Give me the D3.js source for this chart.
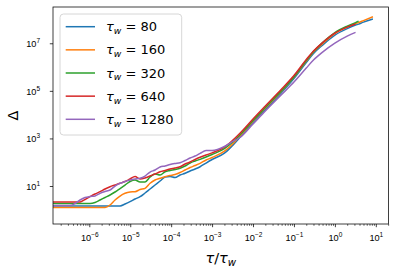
<!DOCTYPE html>
<html>
<head>
<meta charset="utf-8">
<script src="https://d3js.org/d3.v7.min.js"></script>
<style>
    body { margin: 0; background: white; }
    svg { display: block; font-family: "DejaVu Sans", sans-serif; }
</style>
</head>
<body>
<svg id="chart" width="394" height="275"></svg>
<script>
    // tau / tau_w sample positions (shared by all curves)
    const tauRatio = [1.3e-7, 1.92e-7, 3.37e-7, 4.47e-7, 5.93e-7, 7.85e-7, 1.04e-6, 1.38e-6, 1.83e-6, 2.42e-6,
        3.21e-6, 4.25e-6, 5.64e-6, 7.46e-6, 9.89e-6, 1.31e-5, 1.74e-5, 2.30e-5, 3.05e-5, 4.04e-5,
        5.36e-5, 7.10e-5, 9.40e-5, 1.24e-4, 1.65e-4, 2.19e-4, 2.90e-4, 3.84e-4, 5.09e-4, 7.13e-4,
        1e-3, 2e-3, 3e-3, 5e-3, 1e-2, 2e-2, 5e-2, 0.1, 0.2, 0.3, 0.5, 1, 2, 3.2, 3.8, 5, 8.5];

    const waitTimes = [80, 160, 320, 640, 1280];

    // Delta for each waiting time (null = curve has ended)
    const delta80 = [1.45, 1.45, 1.45, 1.45, 1.45, 1.45, 1.45, 1.45, 1.45, 1.45,
        1.45, 1.45, 1.45, 1.75, 2.19, 2.84, 3.55, 5.08, 7.48, 11.0,
        16.2, 23.9, 25.1, 22.8, 29.0, 34.2, 42.7, 51.8, 64.7, 92.5,
        130, 240, 460, 1200, 4660, 1.64e4, 8.49e4, 3.29e5, 1.55e6, 3.69e6, 8.40e6, 2.21e7, 4.15e7, 5.82e7, 6.41e7, 7.78e7, 1.04e8];
    const delta160 = [1.25, 1.25, 1.25, 1.25, 1.25, 1.25, 1.25, 1.25, 1.25, 1.25,
        1.59, 2.58, 3.80, 4.93, 5.60, 5.77, 7.13, 8.00, 13.0, 17.9,
        21.1, 24.6, 27.6, 30.4, 36.9, 47.0, 59.8, 72.6, 89.9, 124,
        157, 290, 530, 1390, 5380, 1.89e4, 9.82e4, 3.80e5, 1.79e6, 4.27e6, 9.71e6, 2.56e7, 4.80e7, 6.73e7, 7.41e7, 8.99e7, 1.30e8];
    const delta320 = [1.84, 1.84, 1.84, 1.84, 1.84, 1.84, 1.84, 2.03, 2.58, 3.29,
        4.19, 5.60, 7.85, 11.0, 15.5, 17.9, 14.7, 14.7, 23.9, 31.9,
        29.0, 39.9, 44.8, 49.3, 55.5, 69.2, 92.5, 112, 132, 165,
        211, 370, 640, 1530, 5650, 1.99e4, 1.03e5, 3.80e5, 1.88e6, 4.48e6, 1.07e7, 2.82e7, 5.28e7, 7.41e7, 8.57e7, null, null];
    const delta640 = [2.13, 2.13, 2.13, 2.13, 2.13, 2.71, 3.55, 4.61, 5.77, 7.48,
        9.35, 11.0, 13.0, 15.5, 19.7, 25.1, 19.7, 21.7, 26.3, 31.9,
        39.9, 44.8, 51.8, 57.0, 64.7, 83.9, 102, 130, 161, 201,
        246, 430, 760, 1770, 6530, 2.3e4, 1.19e5, 4.40e5, 2.07e6, 4.70e6, 1.07e7, 2.68e7, 4.80e7, 6.41e7, null, null, null];
    const delta1280 = [1.52, 1.52, 1.52, 1.84, 2.58, 3.29, 3.62, 3.80, 4.93, 5.87,
        6.79, 10.0, 13.0, 15.5, 17.9, 19.7, 21.1, 26.3, 38.7, 47.0,
        62.8, 69.2, 80.0, 88.1, 95.3, 118, 150, 182, 237, 310,
        310, 457, 700, 1150, 4030, 1.42e4, 7.00e4, 2.34e5, 9.08e5, 1.97e6, 4.27e6, 1.02e7, 2.01e7, 2.87e7, null, null, null];

    const seriesValues = [delta80, delta160, delta320, delta640, delta1280];
    const colors = ["#1f77b4", "#ff7f0e", "#2ca02c", "#d62728", "#9467bd"];

    const xTickExp = [-6, -5, -4, -3, -2, -1, 0, 1];
    const yTickExp = [1, 3, 5, 7];

    const margin = { top: 7, right: 5.5, bottom: 51, left: 53 };
    const width = 394 - margin.left - margin.right;
    const height = 275 - margin.top - margin.bottom;

    const svg = d3.select("#chart");
    const g = svg.append("g")
        .attr("transform", "translate(" + margin.left + "," + margin.top + ")");

    const x = d3.scaleLog().domain([1.297e-7, 20.42]).range([0, width]);
    const y = d3.scaleLog().domain([0.2529, 3.35e8]).range([height, 0]);

    g.append("clipPath").attr("id", "plotClip")
        .append("rect").attr("width", width).attr("height", height);

    // minor x ticks
    const xMinor = [];
    for (let e = -7; e <= 1; e++) {
        for (let m = 2; m <= 9; m++) {
            const v = m * Math.pow(10, e);
            if (v >= x.domain()[0] && v <= x.domain()[1]) xMinor.push(v);
        }
    }
    g.append("g")
        .attr("transform", "translate(0," + height + ")")
        .call(d3.axisBottom(x).tickValues(xMinor).tickSize(1.8).tickFormat(""))
        .call(a => a.select(".domain").remove())
        .selectAll("line").attr("stroke", "#000").attr("stroke-width", 0.6);

    // major x ticks
    const xAx = g.append("g")
        .attr("transform", "translate(0," + height + ")")
        .call(d3.axisBottom(x).tickValues(xTickExp.map(e => Math.pow(10, e))).tickSize(3.2).tickPadding(3))
        .call(a => a.select(".domain").remove());
    xAx.selectAll("line").attr("stroke", "#000").attr("stroke-width", 0.75);
    xAx.selectAll("text").each(function(d, i) {
        const t = d3.select(this);
        t.text(null).attr("font-size", 9.2).attr("fill", "#000").attr("dy", null).attr("y", 17);
        t.append("tspan").text("10");
        const exp = xTickExp[i];
        t.append("tspan").attr("dy", -3.8).attr("font-size", 6.5)
            .text(exp < 0 ? "\u2212" + (-exp) : String(exp));
    });

    // major y ticks
    const yAx = g.append("g")
        .call(d3.axisLeft(y).tickValues(yTickExp.map(e => Math.pow(10, e))).tickSize(3.2).tickPadding(3))
        .call(a => a.select(".domain").remove());
    yAx.selectAll("line").attr("stroke", "#000").attr("stroke-width", 0.75);
    yAx.selectAll("text").each(function(d, i) {
        const t = d3.select(this);
        t.text(null).attr("font-size", 9.2).attr("fill", "#000").attr("x", -13).attr("dy", "0.35em");
        t.append("tspan").text("10");
        t.append("tspan").attr("dy", -3.8).attr("font-size", 6.5).text(String(yTickExp[i]));
    });

    // curves
    const line = d3.line()
        .defined(d => d[1] != null)
        .x(d => x(d[0]))
        .y(d => y(d[1]))
        .curve(d3.curveMonotoneX);

    const curves = g.append("g").attr("clip-path", "url(#plotClip)");
    seriesValues.forEach((vals, i) => {
        curves.append("path")
            .datum(tauRatio.map((t, j) => [t, vals[j]]))
            .attr("fill", "none")
            .attr("stroke", colors[i])
            .attr("stroke-width", 1.5)
            .attr("stroke-linejoin", "round")
            .attr("d", line);
    });

    // frame
    g.append("rect")
        .attr("width", width).attr("height", height)
        .attr("fill", "none").attr("stroke", "#000").attr("stroke-width", 0.75);

    // legend
    const legend = svg.append("g").attr("transform", "translate(60,14)");
    legend.append("rect")
        .attr("width", 121.7).attr("height", 121)
        .attr("rx", 3.5)
        .attr("fill", "white").attr("fill-opacity", 0.8)
        .attr("stroke", "#cccccc").attr("stroke-width", 0.8);
    waitTimes.forEach((w, i) => {
        const ly = 12.7 + i * 23.15;
        legend.append("line")
            .attr("x1", 5.7).attr("x2", 35).attr("y1", ly).attr("y2", ly)
            .attr("stroke", colors[i]).attr("stroke-width", 1.5);
        const t = legend.append("text")
            .attr("x", 46).attr("y", ly + 4.6)
            .attr("font-size", 13).attr("fill", "#000");
        t.append("tspan").attr("font-style", "italic").text("\u03c4");
        t.append("tspan").attr("font-style", "italic").attr("font-size", 9.2).attr("dy", 2.8).text("w");
        t.append("tspan").attr("dy", -2.8).text(" = " + w);
    });

    // axis labels
    const xl = svg.append("text")
        .attr("x", margin.left + width / 2).attr("y", 263)
        .attr("text-anchor", "middle").attr("font-size", 14.5).attr("fill", "#000");
    xl.append("tspan").attr("font-style", "italic").text("\u03c4");
    xl.append("tspan").text("/");
    xl.append("tspan").attr("font-style", "italic").text("\u03c4");
    xl.append("tspan").attr("font-style", "italic").attr("font-size", 10.2).attr("dy", 3.2).text("w");

    svg.append("text")
        .attr("transform", "translate(18," + (margin.top + height / 2) + ") rotate(-90)")
        .attr("text-anchor", "middle").attr("font-size", 14.5).attr("fill", "#000")
        .text("\u0394");
</script>
</body>
</html>
